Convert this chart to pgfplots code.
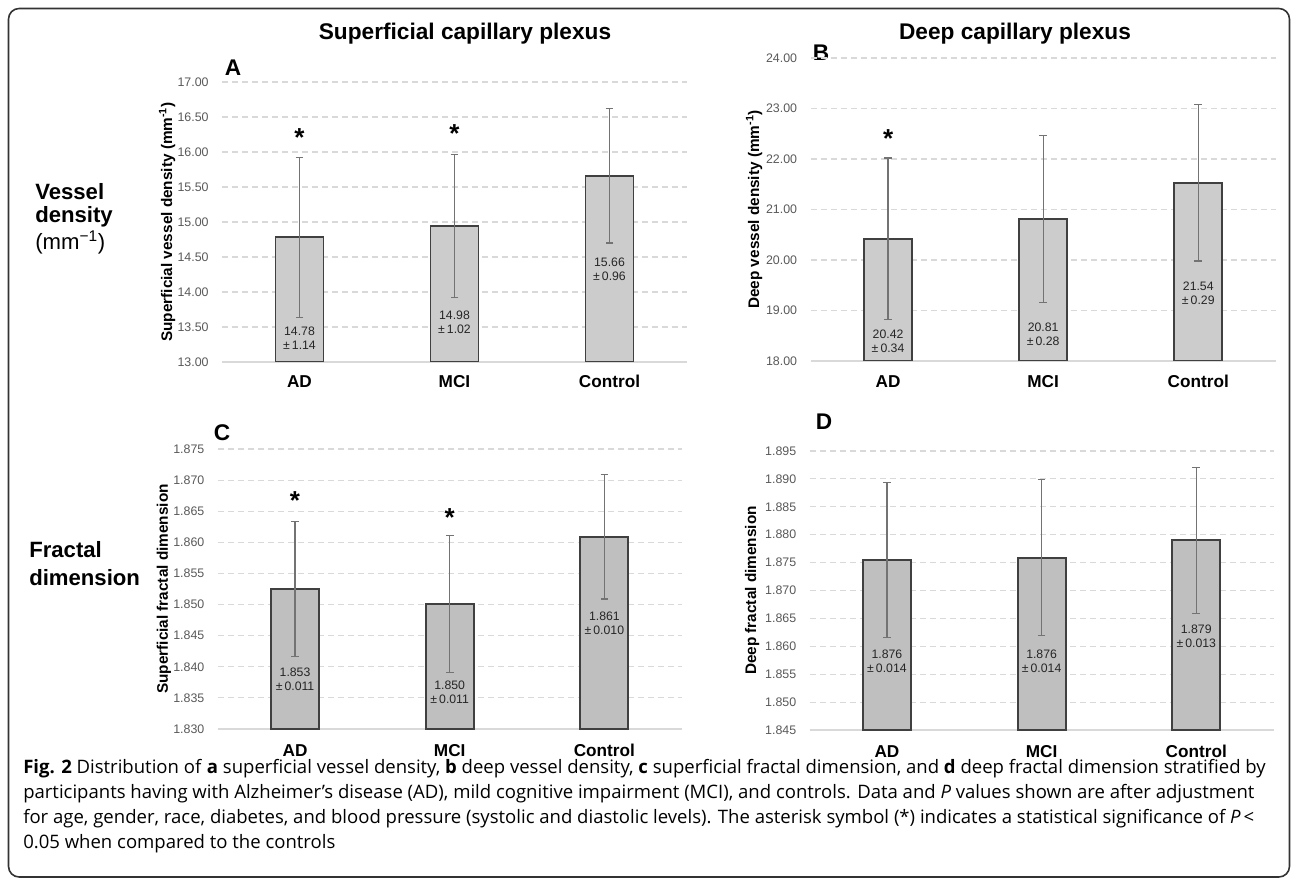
\documentclass[border=0pt]{standalone}
\usepackage{fontspec}
\setmainfont{Liberation Sans}
\newfontfamily\capfont{Open Sans}
\usepackage{pgfplots}
\pgfplotsset{compat=1.18}

\definecolor{barA}{HTML}{CCCCCC}
\definecolor{barC}{HTML}{BFBFBF}
\definecolor{barline}{HTML}{404040}
\definecolor{errc}{HTML}{737373}
\definecolor{gridc}{HTML}{D9D9D9}
\definecolor{tickc}{HTML}{595959}

\pgfplotsset{
  panel/.style={
    scale only axis,
    anchor=south west,
    xmin=-0.5, xmax=2.5,
    xtick={0,1,2},
    xticklabels={AD,MCI,Control},
    axis x line*=bottom,
    axis y line*=left,
    y axis line style={draw=none},
    x axis line style={gridc, line width=1.1pt},
    major tick length=0pt,
    ymajorgrids,
    grid style={gridc, line width=0.8pt, dash pattern=on 4.5pt off 3pt},
    xticklabel style={font=\fontsize{12.9}{14}\selectfont\bfseries, text=black, anchor=base},
    yticklabel style={font=\fontsize{9.3}{11}\selectfont, text=tickc, xshift=-6.5pt},
    /pgf/number format/assume math mode=true,
    /pgf/number format/fixed,
    /pgf/number format/fixed zerofill,
    ylabel style={font=\fontsize{11.5}{13}\selectfont\bfseries, anchor=center},
  },
  bars/.style={ybar, bar width=36pt, draw=barline, line width=1.4pt,
    error bars/.cd, y dir=both, y explicit,
    error bar style={errc, line width=0.9pt},
    error mark options={rotate=90, errc, mark size=2.9pt, line width=0.9pt}},
}
\tikzset{
  vlab/.style={align=center, font=\fontsize{9.2}{10.5}\selectfont, text=black!85, inner sep=0pt},
  star/.style={font=\fontsize{19.5}{20}\selectfont\bfseries, inner sep=0pt, yshift=-4pt},
  rowlab/.style={font=\fontsize{16.6}{18}\selectfont\bfseries, anchor=base west, inner sep=0pt},
  letter/.style={font=\fontsize{17}{18}\selectfont\bfseries},
}

\begin{document}
\begin{tikzpicture}[x=0.75pt, y=0.75pt]
\path[use as bounding box] (0,0) rectangle (1292,879);
\draw[line width=1.2pt, rounded corners=8pt, black!80] (8.5,{879-8.5}) rectangle (1289.5,{879-877});

% column titles and row labels
\node[font=\fontsize{17}{19}\selectfont\bfseries] at (465,{879-34}) {Superficial capillary plexus};
\node[font=\fontsize{17}{19}\selectfont\bfseries] at (1015,{879-34}) {Deep capillary plexus};
\node[rowlab] at (35,{879-200}) {Vessel};
\node[rowlab] at (35,{879-222.5}) {density};
\node[rowlab, font=\fontsize{16.6}{18}\selectfont\mdseries] at (35,{879-250}) {(mm\textsuperscript{−1})};
\node[rowlab] at (29,{879-558}) {Fractal};
\node[rowlab] at (29,{879-585}) {dimension};

% panel letters
\node[letter] at (233,{879-67.5}) {A};
\node[letter] at (821,{879-52.5}) {B};
\node[letter] at (222,{879-432.5}) {C};
\node[letter] at (824,{879-421.5}) {D};

% A: superficial vessel density
\begin{axis}[panel, at={(166.5pt,387.75pt)}, width=348.75pt, height=210pt,
  ymin=13, ymax=17, ytick={13,13.5,14,14.5,15,15.5,16,16.5,17},
  /pgf/number format/precision=2,
  ylabel={Superficial vessel density (mm\textsuperscript{-1})},
  ylabel style={at={(axis description cs:-0.118,0.5)}},
  xticklabel style={yshift=-19pt}]
\addplot[fill=barA, bars] coordinates {(0,14.78) +- (0,1.145) (1,14.94) +- (0,1.02) (2,15.66) +- (0,0.96)};
\node[vlab] at (axis cs:0,13.336) {14.78\\±\,1.14};
\node[vlab] at (axis cs:1,13.564) {14.98\\±\,1.02};
\node[vlab] at (axis cs:2,14.329) {15.66\\±\,0.96};
\node[star] at (axis cs:0,16.276) {*};
\node[star] at (axis cs:1,16.34) {*};
\end{axis}

% B: deep vessel density
\begin{axis}[panel, at={(607.875pt,388.5pt)}, width=349pt, height=227.25pt,
  ymin=18, ymax=24, ytick={18,19,20,21,22,23,24},
  /pgf/number format/precision=2,
  ylabel={Deep vessel density (mm\textsuperscript{-1})},
  ylabel style={at={(axis description cs:-0.121,0.5)}},
  xticklabel style={yshift=-20.2pt}]
\addplot[fill=barA, bars] coordinates {(0,20.42) +- (0,1.6) (1,20.81) +- (0,1.65) (2,21.53) +- (0,1.55)};
\node[vlab] at (axis cs:0,18.382) {20.42\\±\,0.34};
\node[vlab] at (axis cs:1,18.535) {20.81\\±\,0.28};
\node[vlab] at (axis cs:2,19.347) {21.54\\±\,0.29};
\node[star] at (axis cs:0,22.515) {*};
\end{axis}

% C: superficial fractal dimension
\begin{axis}[panel, at={(163.275pt,112.5pt)}, width=348pt, height=210pt,
  ymin=1.830, ymax=1.875, ytick={1.830,1.835,1.840,1.845,1.850,1.855,1.860,1.865,1.870,1.875},
  /pgf/number format/precision=3,
  ylabel={Superficial fractal dimension},
  ylabel style={at={(axis description cs:-0.116,0.5)}},
  xticklabel style={yshift=-20.3pt}]
\addplot[fill=barC, bars] coordinates {(0,1.8525) +- (0,0.0109) (1,1.8501) +- (0,0.0110) (2,1.8609) +- (0,0.0100)};
\node[vlab] at (axis cs:0,1.83802) {1.853\\±\,0.011};
\node[vlab] at (axis cs:1,1.83585) {1.850\\±\,0.011};
\node[vlab] at (axis cs:2,1.84697) {1.861\\±\,0.010};
\node[star] at (axis cs:0,1.8675) {*};
\node[star] at (axis cs:1,1.8649) {*};
\end{axis}

% D: deep fractal dimension
\begin{axis}[panel, at={(607.2pt,111.75pt)}, width=348pt, height=209.25pt,
  ymin=1.845, ymax=1.895, ytick={1.845,1.850,1.855,1.860,1.865,1.870,1.875,1.880,1.885,1.890,1.895},
  /pgf/number format/precision=3,
  ylabel={Deep fractal dimension},
  ylabel style={at={(axis description cs:-0.124,0.5)}},
  xticklabel style={yshift=-20.3pt}]
\addplot[fill=barC, bars] coordinates {(0,1.8755) +- (0,0.0139) (1,1.8759) +- (0,0.0140) (2,1.8790) +- (0,0.0131)};
\node[vlab] at (axis cs:0,1.85737) {1.876\\±\,0.014};
\node[vlab] at (axis cs:1,1.85737) {1.876\\±\,0.014};
\node[vlab] at (axis cs:2,1.86176) {1.879\\±\,0.013};
\end{axis}

% caption
\begin{scope}[every node/.style={anchor=base west, inner sep=0pt, font=\capfont\fontsize{13.9}{15}\selectfont}]
\node at (23,{879-773}) {\textbf{Fig. 2} Distribution of \textbf{a} superficial vessel density, \textbf{b} deep vessel density, \textbf{c} superficial fractal dimension, and \textbf{d} deep fractal dimension stratified by};
\node at (23,{879-798}) {participants having with Alzheimer’s disease (AD), mild cognitive impairment (MCI), and controls. Data and \textit{P} values shown are after adjustment};
\node at (23,{879-823}) {for age, gender, race, diabetes, and blood pressure (systolic and diastolic levels). The asterisk symbol (*) indicates a statistical significance of \textit{P}\,<};
\node at (23,{879-848}) {0.05 when compared to the controls};
\end{scope}
\end{tikzpicture}
\end{document}
